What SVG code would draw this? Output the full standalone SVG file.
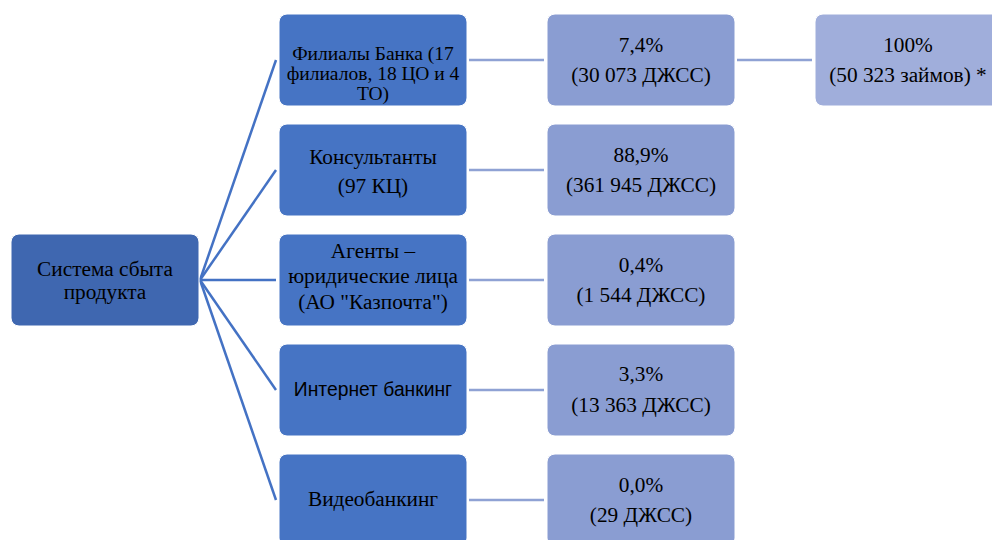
<svg xmlns="http://www.w3.org/2000/svg" width="992" height="540" viewBox="0 0 992 540">
<style>
.box{stroke:#ffffff;stroke-width:1}
.root{fill:#3f67b0}
.l1{fill:#4674c4}
.l2{fill:#8a9dd2}
.l3{fill:#a0aedb}
.t{font-family:"Liberation Serif","Times New Roman",serif;font-size:21.3px;fill:#000;text-anchor:middle}
.f{font-size:19.5px}
.s{font-family:"Liberation Sans",Arial,sans-serif;font-size:19.3px;fill:#000;text-anchor:middle}
.c1{stroke:#4472c4;stroke-width:2.5;fill:none}
.c2{stroke:#8fa2d4;stroke-width:2.5;fill:none}
</style>
<rect width="992" height="540" fill="#ffffff"/>
<g id="connectors">
<line class="c1" x1="200" y1="280" x2="276" y2="60"/>
<line class="c1" x1="200" y1="280" x2="276" y2="170"/>
<line class="c1" x1="200" y1="280" x2="276" y2="280"/>
<line class="c1" x1="200" y1="280" x2="276" y2="390"/>
<line class="c1" x1="200" y1="280" x2="276" y2="500"/>
<line class="c2" x1="469" y1="60" x2="544" y2="60"/>
<line class="c2" x1="469" y1="170" x2="544" y2="170"/>
<line class="c2" x1="469" y1="280" x2="544" y2="280"/>
<line class="c2" x1="469" y1="390" x2="544" y2="390"/>
<line class="c2" x1="469" y1="500" x2="544" y2="500"/>
<line class="c2" x1="737" y1="60" x2="812" y2="60"/>
</g>
<g id="root">
<rect class="box root" x="11" y="234" width="188" height="92" rx="8"/>
<text class="t" x="105" y="276">Система сбыта</text>
<text class="t" x="105" y="299">продукта</text>
</g>
<g id="n1">
<rect class="box l1" x="279" y="14" width="188" height="92" rx="8"/>
<text class="t f" x="373" y="60">Филиалы Банка (17</text>
<text class="t f" x="373" y="80">филиалов, 18 ЦО и 4</text>
<text class="t f" x="373" y="100">ТО)</text>
</g>
<g id="n2">
<rect class="box l1" x="279" y="124" width="188" height="92" rx="8"/>
<text class="t" x="373" y="164">Консультанты</text>
<text class="t" x="373" y="193">(97 КЦ)</text>
</g>
<g id="n3">
<rect class="box l1" x="279" y="234" width="188" height="92" rx="8"/>
<text class="t" x="373" y="258">Агенты –</text>
<text class="t" x="373" y="283">юридические лица</text>
<text class="t" x="373" y="309">(АО "Казпочта")</text>
</g>
<g id="n4">
<rect class="box l1" x="279" y="344" width="188" height="92" rx="8"/>
<text class="s" x="373" y="396">Интернет банкинг</text>
</g>
<g id="n5">
<rect class="box l1" x="279" y="454" width="188" height="92" rx="8"/>
<text class="t" x="373" y="506">Видеобанкинг</text>
</g>
<g id="m1">
<rect class="box l2" x="547" y="14" width="188" height="92" rx="8"/>
<text class="t" x="641" y="52">7,4%</text>
<text class="t" x="641" y="82">(30 073 ДЖСС)</text>
</g>
<g id="m2">
<rect class="box l2" x="547" y="124" width="188" height="92" rx="8"/>
<text class="t" x="641" y="162">88,9%</text>
<text class="t" x="641" y="192">(361 945 ДЖСС)</text>
</g>
<g id="m3">
<rect class="box l2" x="547" y="234" width="188" height="92" rx="8"/>
<text class="t" x="641" y="272">0,4%</text>
<text class="t" x="641" y="302">(1 544 ДЖСС)</text>
</g>
<g id="m4">
<rect class="box l2" x="547" y="344" width="188" height="92" rx="8"/>
<text class="t" x="641" y="381">3,3%</text>
<text class="t" x="641" y="412">(13 363 ДЖСС)</text>
</g>
<g id="m5">
<rect class="box l2" x="547" y="454" width="188" height="92" rx="8"/>
<text class="t" x="641" y="492">0,0%</text>
<text class="t" x="641" y="522">(29 ДЖСС)</text>
</g>
<g id="k1">
<rect class="box l3" x="815" y="14" width="188" height="92" rx="8"/>
<text class="t" x="908" y="52">100%</text>
<text class="t" x="908" y="82">(50 323 займов) *</text>
</g>
</svg>
